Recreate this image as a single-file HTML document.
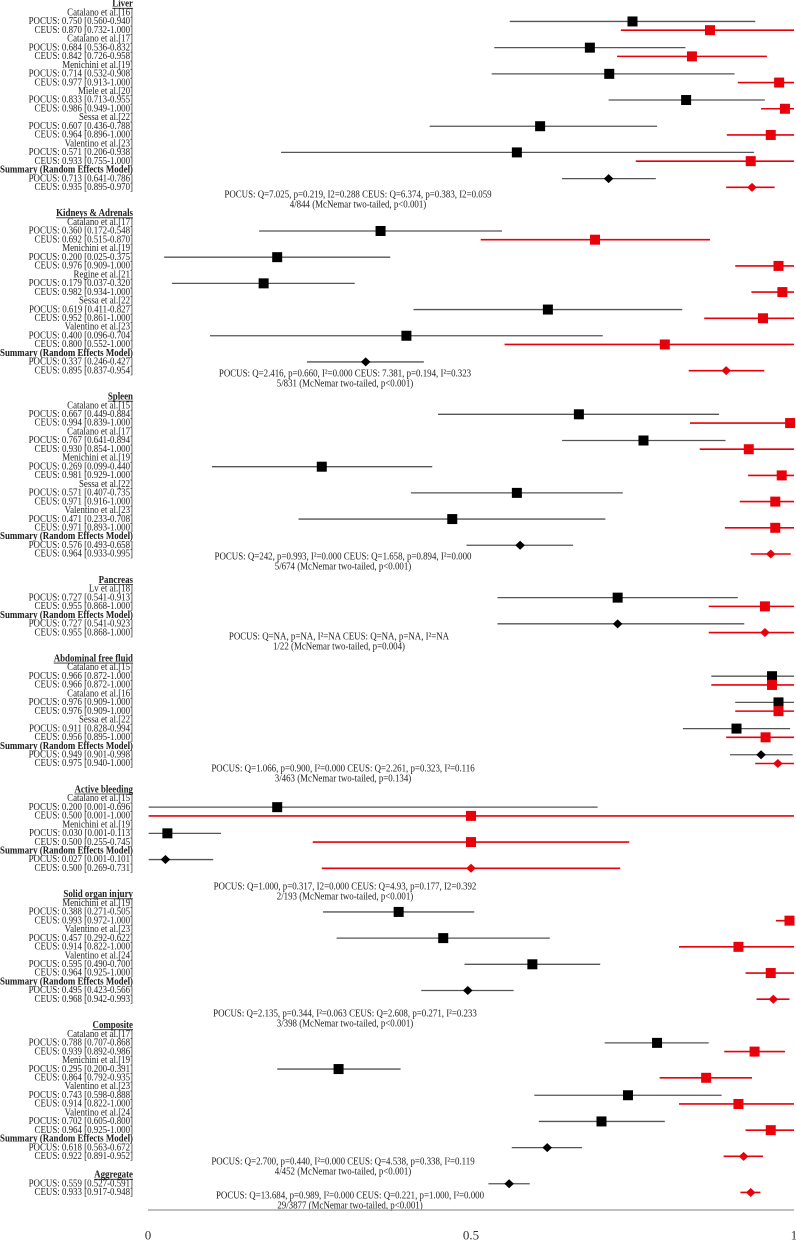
<!DOCTYPE html>
<html><head><meta charset="utf-8"><style>
html,body{margin:0;padding:0;background:#fff;}
svg{display:block;font-family:"Liberation Serif",serif;}
</style></head><body>
<svg id="chart" width="796" height="1240" viewBox="0 0 796 1240" xmlns="http://www.w3.org/2000/svg"></svg>
<script>
const sectionTitles=["Liver","Kidneys & Adrenals","Spleen","Pancreas","Abdominal free fluid","Active bleeding","Solid organ injury","Composite","Aggregate"];
const studyNames=[
["Catalano et al.[16]","Catalano et al.[17]","Menichini et al.[19]","Miele et al.[20]","Sessa et al.[22]","Valentino et al.[23]"],
["Catalano et al.[17]","Menichini et al.[19]","Regine et al.[21]","Sessa et al.[22]","Valentino et al.[23]"],
["Catalano et al.[15]","Catalano et al.[17]","Menichini et al.[19]","Sessa et al.[22]","Valentino et al.[23]"],
["Lv et al.[18]"],
["Catalano et al.[15]","Catalano et al.[16]","Sessa et al.[22]"],
["Catalano et al.[15]","Menichini et al.[19]"],
["Menichini et al.[19]","Valentino et al.[23]","Valentino et al.[24]"],
["Catalano et al.[17]","Menichini et al.[19]","Valentino et al.[23]","Valentino et al.[24]"],
[]];
const pocusEst=[[0.750,0.684,0.714,0.833,0.607,0.571],[0.360,0.200,0.179,0.619,0.400],[0.667,0.767,0.269,0.571,0.471],[0.727],[0.966,0.976,0.911],[0.200,0.030],[0.388,0.457,0.595],[0.788,0.295,0.743,0.702],[]];
const pocusLo=[[0.560,0.536,0.532,0.713,0.436,0.206],[0.172,0.025,0.037,0.411,0.096],[0.449,0.641,0.099,0.407,0.233],[0.541],[0.872,0.909,0.828],[0.001,0.001],[0.271,0.292,0.490],[0.707,0.200,0.598,0.605],[]];
const pocusHi=[[0.940,0.832,0.908,0.955,0.788,0.938],[0.548,0.375,0.320,0.827,0.704],[0.884,0.894,0.440,0.735,0.708],[0.913],[1.000,1.000,0.994],[0.696,0.113],[0.505,0.622,0.700],[0.868,0.391,0.888,0.800],[]];
const ceusEst=[[0.870,0.842,0.977,0.986,0.964,0.933],[0.692,0.976,0.982,0.952,0.800],[0.994,0.930,0.981,0.971,0.971],[0.955],[0.966,0.976,0.956],[0.500,0.500],[0.993,0.914,0.964],[0.939,0.864,0.914,0.964],[]];
const ceusLo=[[0.732,0.726,0.913,0.949,0.896,0.755],[0.515,0.909,0.934,0.861,0.552],[0.839,0.854,0.929,0.916,0.893],[0.868],[0.872,0.909,0.895],[0.001,0.255],[0.972,0.822,0.925],[0.892,0.792,0.822,0.925],[]];
const ceusHi=[[1.000,0.958,1.000,1.000,1.000,1.000],[0.870,1.000,1.000,1.000,1.000],[1.000,1.000,1.000,1.000,1.000],[1.000],[1.000,1.000,1.000],[1.000,0.745],[1.000,1.000,1.000],[0.986,0.935,1.000,1.000],[]];
const sumPocusEst=[0.713,0.337,0.576,0.727,0.949,0.027,0.495,0.618,0.559];
const sumPocusLo=[0.641,0.246,0.493,0.541,0.901,0.001,0.423,0.563,0.527];
const sumPocusHi=[0.786,0.427,0.658,0.923,0.998,0.101,0.566,0.672,0.591];
const sumCeusEst=[0.935,0.895,0.964,0.955,0.975,0.500,0.968,0.922,0.933];
const sumCeusLo=[0.895,0.837,0.933,0.868,0.940,0.269,0.942,0.891,0.917];
const sumCeusHi=[0.970,0.954,0.995,1.000,1.000,0.731,0.993,0.952,0.948];
const statsLine1=["POCUS: Q=7.025, p=0.219, I2=0.288  CEUS: Q=6.374, p=0.383, I2=0.059","POCUS: Q=2.416, p=0.660, I²=0.000  CEUS: 7.381, p=0.194, I²=0.323","POCUS: Q=242, p=0.993, I²=0.000  CEUS: Q=1.658, p=0.894, I²=0.000","POCUS: Q=NA, p=NA, I²=NA  CEUS: Q=NA, p=NA, I²=NA","POCUS: Q=1.066, p=0.900, I²=0.000  CEUS: Q=2.261, p=0.323, I²=0.116","POCUS: Q=1.000, p=0.317, I2=0.000  CEUS: Q=4.93, p=0.177, I2=0.392","POCUS: Q=2.135, p=0.344, I²=0.063  CEUS: Q=2.608, p=0.271, I²=0.233","POCUS: Q=2.700, p=0.440, I²=0.000  CEUS: Q=4.538, p=0.338, I²=0.119","POCUS: Q=13.684, p=0.989, I²=0.000  CEUS: Q=0.221, p=1.000, I²=0.000"];
const statsLine2=["4/844 (McNemar two-tailed, p<0.001)","5/831 (McNemar two-tailed, p<0.001)","5/674 (McNemar two-tailed, p<0.001)","1/22 (McNemar two-tailed, p=0.004)","3/463 (McNemar two-tailed, p=0.134)","2/193 (McNemar two-tailed, p<0.001)","3/398 (McNemar two-tailed, p<0.001)","4/452 (McNemar two-tailed, p<0.001)","29/3877 (McNemar two-tailed, p<0.001)"];
const tickValues=[0,0.5,1];
const tickLabels=["0","0.5","1"];

const NS="http://www.w3.org/2000/svg";
const svg=document.getElementById('chart');
const X0=148,X1=794;
function xs(v){return X0+v*(X1-X0);}
const PITCH=8.73;
const FS=10.6, SX=0.84;
function rowY(r){return 4+r*PITCH;}
const sectionStartRow=[0,24,45,66,75,90,102,117];
const statsY=[195,374,557,637,769,887,1014,1162,1196];
const statsX=[358,345,343,339,343,345,345,343,350];
function mk(tag,attrs){const e=document.createElementNS(NS,tag);for(const k in attrs)e.setAttribute(k,attrs[k]);svg.appendChild(e);return e;}
function label(txt,y,bold,underline){
  const t=mk('text',{x:0,y:0,transform:`translate(133,${y}) scale(${SX},1)`,'text-anchor':'end','dominant-baseline':'central','font-size':FS,fill:'#222'});
  if(bold)t.setAttribute('font-weight','bold');
  t.textContent=txt;
  if(underline){
    const w=t.getComputedTextLength()*SX;
    const u=mk('line',{x1:133-w,x2:133,y1:y+4.3,y2:y+4.3,stroke:'#222','stroke-width':0.8});
    
    
  }
  return t;
}
function f3(v){return v.toFixed(3);}
function ci(lo,hi,y,red){
  return mk('line',{x1:xs(lo),x2:xs(Math.min(hi,1)),y1:y,y2:y,stroke:red?'#e8000b':'#555','stroke-width':red?1.6:1.3});
}
function square(v,y,red){
  const s=10;
  return mk('rect',{x:xs(v)-s/2,y:y-s/2,width:s,height:s,fill:red?'#e8000b':'#000'});
}
function diamond(v,y,red){
  const cx=xs(v),w=4.8,h=4.5;
  return mk('polygon',{points:`${cx-w},${y} ${cx},${y-h} ${cx+w},${y} ${cx},${y+h}`,fill:red?'#e8000b':'#000'});
}
function stat(x,y){
  return mk('text',{x:0,y:0,transform:`translate(${x},${y}) scale(${SX},1)`,'text-anchor':'middle','dominant-baseline':'central','font-size':FS,fill:'#222'});
}
for(let s=0;s<sectionTitles.length;s++){
  const agg=(s===8);
  let yAt=agg?(r=>1175+r*PITCH):(r=>rowY(sectionStartRow[s]+r));
  let r=0;
  const h=label(sectionTitles[s],yAt(r),true,true);
  
  
  r++;
  for(let i=0;i<studyNames[s].length;i++){
    const n=label(studyNames[s][i],yAt(r),false,false);
    
    
    r++;
    let y=yAt(r);
    const pl=label('POCUS: '+f3(pocusEst[s][i])+' ['+f3(pocusLo[s][i])+'-'+f3(pocusHi[s][i])+']',y);
    
    
    const pc=ci(pocusLo[s][i],pocusHi[s][i],y,false);
    
    
    const pm=square(pocusEst[s][i],y,false);
    
    
    r++;
    y=yAt(r);
    const cl=label('CEUS: '+f3(ceusEst[s][i])+' ['+f3(ceusLo[s][i])+'-'+f3(ceusHi[s][i])+']',y);
    
    
    const cc=ci(ceusLo[s][i],ceusHi[s][i],y,true);
    
    
    const cm=square(ceusEst[s][i],y,true);
    
    
    r++;
  }
  if(!agg){
    const sh=label('Summary (Random Effects Model)',yAt(r),true,false);
    
    
    r++;
  }
  let y=yAt(r);
  const sp=label('POCUS: '+f3(sumPocusEst[s])+' ['+f3(sumPocusLo[s])+'-'+f3(sumPocusHi[s])+']',y);
  
  
  const spc=ci(sumPocusLo[s],sumPocusHi[s],y,false);
  
  
  const spd=diamond(sumPocusEst[s],y,false);
  
  
  r++;
  y=yAt(r);
  const sc=label('CEUS: '+f3(sumCeusEst[s])+' ['+f3(sumCeusLo[s])+'-'+f3(sumCeusHi[s])+']',y);
  
  
  const scc=ci(sumCeusLo[s],sumCeusHi[s],y,true);
  
  
  const scd=diamond(sumCeusEst[s],y,true);
  
  
  const t1=stat(statsX[s],statsY[s]);
  t1.textContent=statsLine1[s];
  
  
  const t2=stat(statsX[s],statsY[s]+10);
  t2.textContent=statsLine2[s];
  
  
}
const ax=mk('line',{x1:X0,x2:X1,y1:1210,y2:1210,stroke:'#aaa','stroke-width':1.5});


for(let i=0;i<tickValues.length;i++){
  const t=mk('text',{x:xs(tickValues[i]),y:1235,'text-anchor':'middle','dominant-baseline':'central','font-size':'13',fill:'#333'});
  t.textContent=tickLabels[i];
  
  
}
</script>
</body></html>
